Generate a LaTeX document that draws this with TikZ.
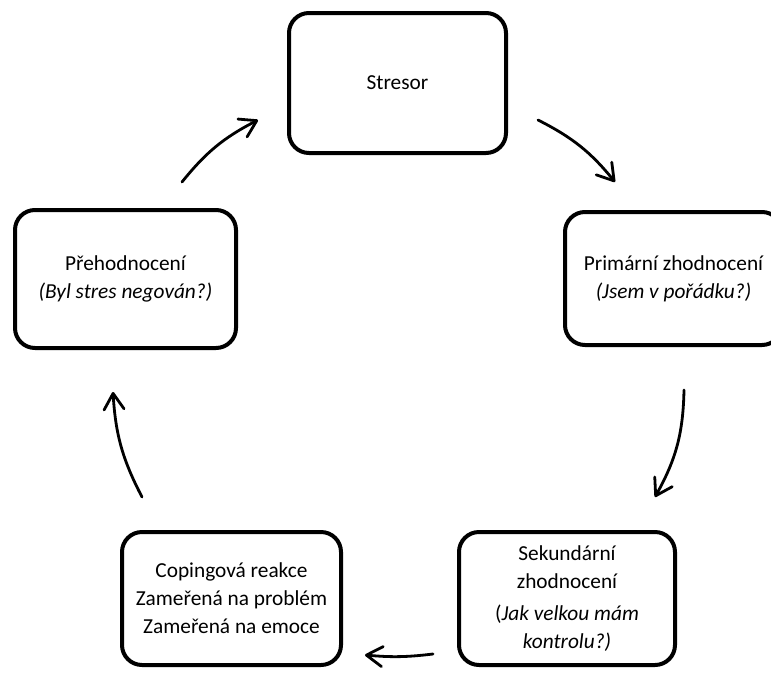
\documentclass[tikz,border=0pt]{standalone}
\usepackage{fontspec}
\setmainfont{Carlito}
\usetikzlibrary{arrows.meta}
\tikzset{
  box/.style={draw=black, line width=3pt, rounded corners=15pt, align=center,
    font=\fontsize{16}{21}\selectfont, inner sep=0pt, minimum height=99.75pt},
  cyc/.style={line width=2.1pt, line cap=round,
    -{Straight Barb[length=12pt,width=15pt,line width=2.1pt,round]}}
}
\begin{document}
\begin{tikzpicture}[x=0.75pt,y=-0.75pt]
\useasboundingbox (0,0) rectangle (771,672);
\node[box, minimum width=162.75pt, minimum height=105pt] (stresor) at (397.5,83) {Stresor};
\node[box, minimum width=162.75pt] (prim) at (673.5,278.5) {Primární zhodnocení\\\textit{(Jsem v pořádku?)}};
\node[box, minimum width=165.75pt, minimum height=103.5pt] (preh) at (125.5,279) {Přehodnocení\\\textit{(Byl stres negován?)}};
\node[box, minimum width=162pt] (sek) at (567,598.5) {Sekundární\\zhodnocení\\[3pt](\textit{Jak velkou mám}\\\textit{kontrolu?)}};
\node[box, minimum width=164.25pt] (cop) at (231.5,598.5) {Copingová reakce\\Zameřená na problém\\Zameřená na emoce};
\coordinate (a1s) at (182,182); \coordinate (a1e) at (258,120);
\coordinate (a2s) at (538,120); \coordinate (a2e) at (615,182);
\coordinate (a3s) at (684,390); \coordinate (a3e) at (655,497);
\coordinate (a4s) at (433,654); \coordinate (a4e) at (365,655);
\coordinate (a5s) at (142,497); \coordinate (a5e) at (113,392);
\draw[cyc] (a1s) to[bend left=12] (a1e);
\draw[cyc] (a2s) to[bend left=12] (a2e);
\draw[cyc] (a3s) to[bend left=14] (a3e);
\draw[cyc] (a4s) to[bend left=6] (a4e);
\draw[cyc] (a5s) to[bend left=12] (a5e);
\end{tikzpicture}
\end{document}
